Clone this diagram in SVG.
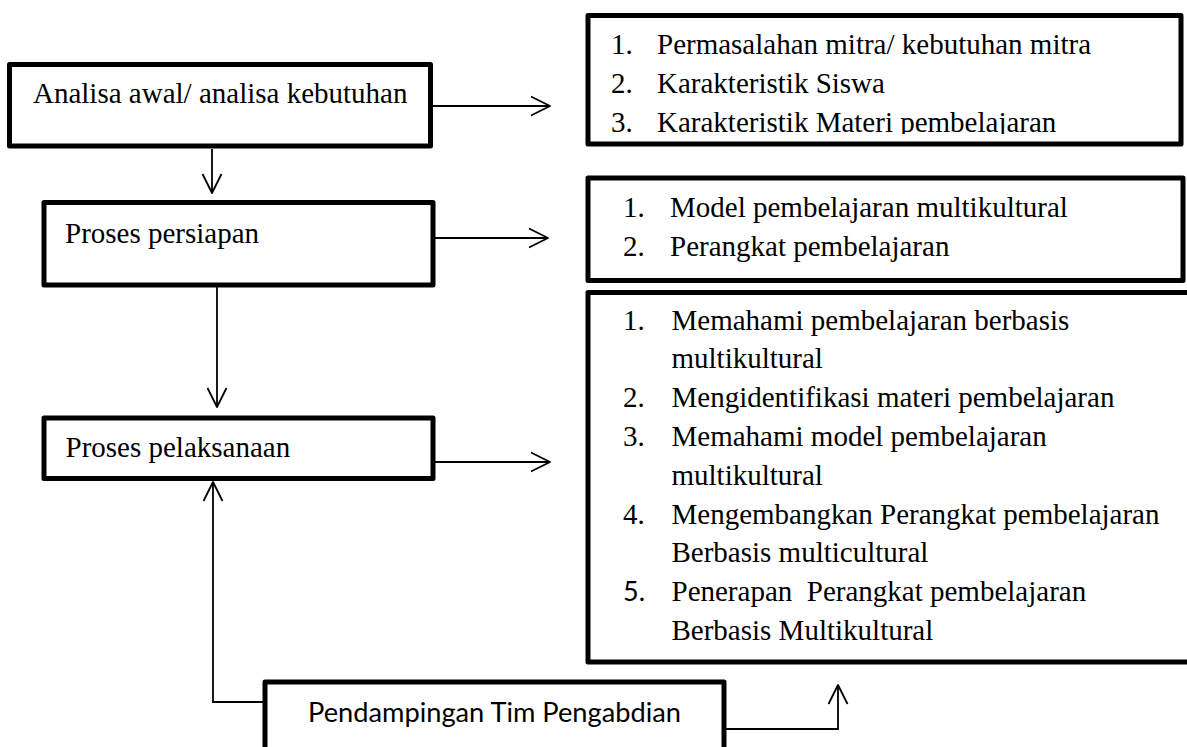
<svg xmlns="http://www.w3.org/2000/svg" width="1187" height="747" viewBox="0 0 1187 747">
<style>
.box{fill:#fff;stroke:#000;stroke-width:5;stroke-linejoin:round}
.t{font-family:"Liberation Serif","Times New Roman",serif;font-size:29px;fill:#000}
.s{font-family:Lato,"Open Sans",sans-serif;fill:#000}
.c{fill:none;stroke:#000;stroke-width:1.8}
</style>
<defs>
<marker id="ah" viewBox="-21 -11 23 22" refX="0" refY="0" markerWidth="23" markerHeight="22" markerUnits="userSpaceOnUse" orient="auto">
<path d="M-19,-9.5 L0,0 L-19,9.5" fill="none" stroke="#000" stroke-width="1.8" stroke-linejoin="round"/>
</marker>
<clipPath id="clipA"><rect x="588" y="18" width="592" height="116"/></clipPath>
</defs>
<rect width="1187" height="747" fill="#fff"/>

<g id="connectors">
<path class="c" d="M433,106 H550" marker-end="url(#ah)"/>
<path class="c" d="M435,238 H548" marker-end="url(#ah)"/>
<path class="c" d="M435,462 H550" marker-end="url(#ah)"/>
<path class="c" d="M212,149 V193" marker-end="url(#ah)"/>
<path class="c" d="M217,287 V407" marker-end="url(#ah)"/>
<path class="c" d="M265,702 H213 V482" marker-end="url(#ah)"/>
<path class="c" d="M726,729 H838 V685" marker-end="url(#ah)"/>
</g>

<g id="node-analisa">
<rect class="box" x="9.5" y="64.5" width="421" height="81.5"/>
<text class="t" x="33" y="103">Analisa awal/ analisa kebutuhan</text>
</g>

<g id="node-persiapan">
<rect class="box" x="44" y="202.5" width="389" height="82.5"/>
<text class="t" x="65" y="243">Proses persiapan</text>
</g>

<g id="node-pelaksanaan">
<rect class="box" x="44" y="418" width="389" height="60.5"/>
<text class="t" x="65.5" y="457">Proses pelaksanaan</text>
</g>

<g id="node-list-analisa">
<rect class="box" x="588" y="15.5" width="593" height="128.5"/>
<g clip-path="url(#clipA)">
<text class="t" x="611" y="54.3">1.</text>
<text class="t" x="657" y="54.3">Permasalahan mitra/ kebutuhan mitra</text>
<text class="t" x="611" y="93.1">2.</text>
<text class="t" x="657" y="93.1">Karakteristik Siswa</text>
<text class="t" x="611" y="131.9">3.</text>
<text class="t" x="657" y="131.9">Karakteristik Materi pembelajaran</text>
</g>
</g>

<g id="node-list-persiapan">
<rect class="box" x="588" y="178" width="595" height="102.5"/>
<text class="t" x="623" y="217">1.</text>
<text class="t" x="670" y="217">Model pembelajaran multikultural</text>
<text class="t" x="623" y="256">2.</text>
<text class="t" x="670" y="256">Perangkat pembelajaran</text>
</g>

<g id="node-list-pelaksanaan">
<rect class="box" x="588" y="292.5" width="610" height="369.5"/>
<text class="t" x="623" y="329.5">1.</text>
<text class="t" x="671.5" y="329.5">Memahami pembelajaran berbasis</text>
<text class="t" x="671.5" y="368.3">multikultural</text>
<text class="t" x="623" y="407.1">2.</text>
<text class="t" x="671.5" y="407.1">Mengidentifikasi materi pembelajaran</text>
<text class="t" x="623" y="445.9">3.</text>
<text class="t" x="671.5" y="445.9">Memahami model pembelajaran</text>
<text class="t" x="671.5" y="484.7">multikultural</text>
<text class="t" x="623" y="523.5">4.</text>
<text class="t" x="671.5" y="523.5">Mengembangkan Perangkat pembelajaran</text>
<text class="t" x="671.5" y="562.3">Berbasis multicultural</text>
<text class="s" x="623" y="601.1" font-size="27">5.</text>
<text class="t" x="671.5" y="601.1" xml:space="preserve">Penerapan  Perangkat pembelajaran</text>
<text class="t" x="671.5" y="639.9">Berbasis Multikultural</text>
</g>

<g id="node-pendampingan">
<rect class="box" x="265" y="682" width="459" height="90"/>
<text class="s" x="308" y="722" font-size="27" textLength="373" lengthAdjust="spacingAndGlyphs">Pendampingan Tim Pengabdian</text>
</g>
</svg>
